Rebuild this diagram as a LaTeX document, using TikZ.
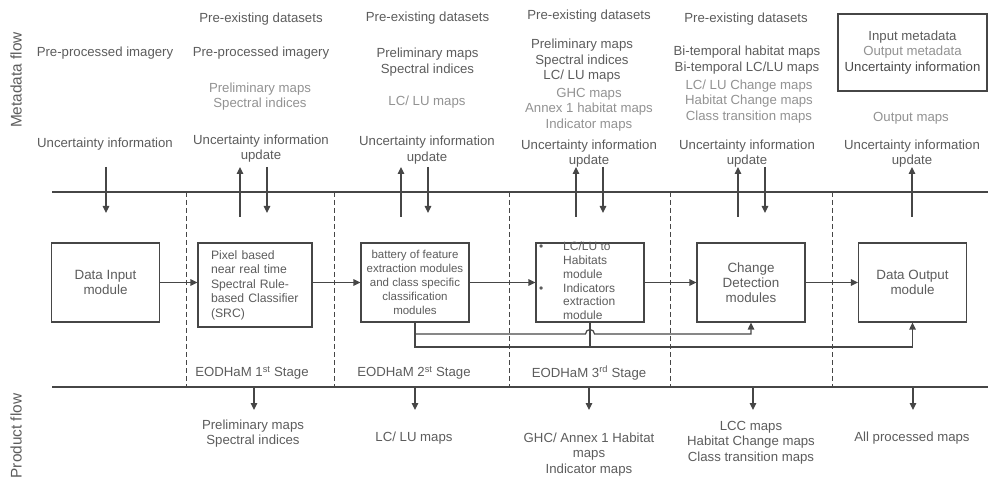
\documentclass[tikz,border=0pt]{standalone}
\usepackage{fontspec}
\setmainfont{Liberation Sans}
\usetikzlibrary{arrows.meta, calc}
\definecolor{txtdark}{HTML}{5C5C5C}
\definecolor{txtlight}{HTML}{929292}
\definecolor{linegray}{HTML}{464646}
\tikzset{
  meta/.style={font=\fontsize{13.2}{15.5}\selectfont, text=txtdark, align=center, inner sep=0pt},
  metalight/.style={meta, text=txtlight},
  modbox/.style={draw=linegray, line width=1.2pt, minimum width=108pt, minimum height=79pt, inner sep=0pt, text=txtdark, font=\fontsize{13.4}{15}\selectfont, align=center},
  flow/.style={draw=linegray, line width=1.2pt, -{Triangle[width=6.5pt,length=7pt]}},
  rail/.style={draw=linegray, line width=1.3pt},
  stagesep/.style={draw=linegray, line width=0.9pt, dash pattern=on 5pt off 3pt},
  sidelabel/.style={font=\fontsize{15.4}{18}\selectfont, text=txtdark, rotate=90, inner sep=0pt}
}
\begin{document}
\begin{tikzpicture}[x=1pt, y=-1pt]
\useasboundingbox (0,0) rectangle (988,478);
\coordinate (mL) at (52,192);
\coordinate (mR) at (988,192);
\coordinate (pL) at (52,387);
\coordinate (pR) at (988,387);
\draw[rail] (mL) -- (mR);
\draw[rail] (pL) -- (pR);
\coordinate (s1) at (186,192);
\coordinate (s2) at (334,192);
\coordinate (s3) at (509,192);
\coordinate (s4) at (670,192);
\coordinate (s5) at (832,192);
\draw[stagesep] (s1) -- (s1 |- pL);
\draw[stagesep] (s2) -- (s2 |- pL);
\draw[stagesep] (s3) -- (s3 |- pL);
\draw[stagesep] (s4) -- (s4 |- pL);
\draw[stagesep] (s5) -- (s5 |- pL);
\node[sidelabel] (mflow) at (16,80) {Metadata flow};
\node[sidelabel] (pflow) at (16,436) {Product flow};
\node[meta] (pre0) at (105,53) {Pre-processed imagery};
\node[meta] (unc0) at (105,144) {Uncertainty information};
\node[meta] (ext1) at (261,19) {Pre-existing datasets};
\node[meta] (pre1) at (261,53) {Pre-processed imagery};
\node[metalight] (prod1) at (260,96.5) {Preliminary maps\\Spectral indices};
\node[meta] (unc1) at (261,148.5) {Uncertainty information\\update};
\node[meta] (ext2) at (427.5,18) {Pre-existing datasets};
\node[meta] (prod2) at (427.5,62) {Preliminary maps\\Spectral indices};
\node[metalight] (lclu2) at (427,102) {LC/ LU maps};
\node[meta] (unc2) at (427,150) {Uncertainty information\\update};
\node[meta] (ext3) at (589,16) {Pre-existing datasets};
\node[meta] (prod3) at (582,61) {Preliminary maps\\Spectral indices\\LC/ LU maps};
\node[metalight] (hab3) at (589,109.5) {GHC maps\\Annex 1 habitat maps\\Indicator maps};
\node[meta] (unc3) at (589,153.5) {Uncertainty information\\update};
\node[meta] (ext4) at (746,19) {Pre-existing datasets};
\node[meta] (bit4) at (747,60) {Bi-temporal habitat maps\\Bi-temporal LC/LU maps};
\node[metalight] (chg4) at (749,101.5) {LC/ LU Change maps\\Habitat Change maps\\Class transition maps};
\node[meta] (unc4) at (747,153.5) {Uncertainty information\\update};
\node[meta, draw=linegray, line width=1.2pt, minimum width=149pt, minimum height=77pt] (legend) at (912.5,52.5) {Input metadata\\{\color{txtlight}Output metadata}\\{\color{txtdark!80!black}Uncertainty information}};
\node[metalight] (out5) at (911,118) {Output maps};
\node[meta] (unc5) at (912,153.5) {Uncertainty information\\update};
\coordinate (dnEnd) at (0,213);
\coordinate (upStart) at (0,217);
\coordinate (dn0) at (106,167);
\coordinate (up1) at (240,167);
\coordinate (dn1) at (267,167);
\coordinate (up2) at (401,167);
\coordinate (dn2) at (428,167);
\coordinate (up3) at (576,167);
\coordinate (dn3) at (603,167);
\coordinate (up4) at (738,167);
\coordinate (dn4) at (765,167);
\coordinate (up5) at (912,167);
\draw[flow] (dn0) -- (dn0 |- dnEnd);
\draw[flow] (up1 |- upStart) -- (up1);
\draw[flow] (dn1) -- (dn1 |- dnEnd);
\draw[flow] (up2 |- upStart) -- (up2);
\draw[flow] (dn2) -- (dn2 |- dnEnd);
\draw[flow] (up3 |- upStart) -- (up3);
\draw[flow] (dn3) -- (dn3 |- dnEnd);
\draw[flow] (up4 |- upStart) -- (up4);
\draw[flow] (dn4) -- (dn4 |- dnEnd);
\draw[flow] (up5 |- upStart) -- (up5);
\node[modbox] (din) at (105.5,282.5) {Data Input\\module};
\node[modbox, minimum width=114pt, minimum height=84pt, align=left, text width=88pt, font=\fontsize{12.2}{14.5}\selectfont] (src) at (255,285) {Pixel based\\near real time\\Spectral Rule-\\based Classifier\\(SRC)};
\node[modbox, font=\fontsize{11.5}{14}\selectfont] (feat) at (415,282.5) {battery of feature\\extraction modules\\and class specific\\classification\\modules};
\node[modbox] (hab) at (590,282.5) {};
\node[inner sep=0pt, text=txtdark, font=\fontsize{12}{13.8}\selectfont, anchor=west] (habtxt) at (539,282.5) {\begin{tabular}{@{}p{24pt}@{}l@{}}\textbullet & LC/LU to\\ & Habitats\\ & module\\ \textbullet & Indicators\\ & extraction\\ & module\end{tabular}};
\node[modbox] (chg) at (751,282.5) {Change\\Detection\\modules};
\node[modbox] (dout) at (912.5,282.5) {Data Output\\module};
\draw[flow] (din.east) -- (din.east -| src.west);
\draw[flow] (src.east |- feat.west) -- (feat.west);
\draw[flow] (feat) -- (hab);
\draw[flow] (hab) -- (chg);
\draw[flow] (chg) -- (dout);
\coordinate (loopA) at (0,334);
\coordinate (loopB) at (0,347);
\draw[flow] (feat.south) -- (feat.south |- loopB) -- (dout.south |- loopB) -- (dout.south);
\draw[flow] (feat.south |- loopA) -- ($(hab.south |- loopA)+(-4.5,0)$) arc[start angle=180, end angle=360, radius=4.5] -- (chg.south |- loopA) -- (chg.south);
\draw[rail, line width=1.2pt] (hab.south) -- (hab.south |- loopB);
\node[meta] (st1) at (252,373) {EODHaM 1\textsuperscript{st} Stage};
\node[meta] (st2) at (414,373) {EODHaM 2\textsuperscript{st} Stage};
\node[meta] (st3) at (589,373) {EODHaM 3\textsuperscript{rd} Stage};
\coordinate (pd1) at (254,410);
\coordinate (pd2) at (415,410);
\coordinate (pd3) at (589,410);
\coordinate (pd4) at (753,410);
\coordinate (pd5) at (913,410);
\draw[flow] (pd1 |- pL) -- (pd1);
\draw[flow] (pd2 |- pL) -- (pd2);
\draw[flow] (pd3 |- pL) -- (pd3);
\draw[flow] (pd4 |- pL) -- (pd4);
\draw[flow] (pd5 |- pL) -- (pd5);
\node[meta] (out1) at (253,433.5) {Preliminary maps\\Spectral indices};
\node[meta] (out2) at (414,438) {LC/ LU maps};
\node[meta] (out3) at (589,454.5) {GHC/ Annex 1 Habitat\\maps\\Indicator maps};
\node[meta] (out4) at (751,442.5) {LCC maps\\Habitat Change maps\\Class transition maps};
\node[meta] (outAll) at (912,438) {All processed maps};
\end{tikzpicture}
\end{document}
